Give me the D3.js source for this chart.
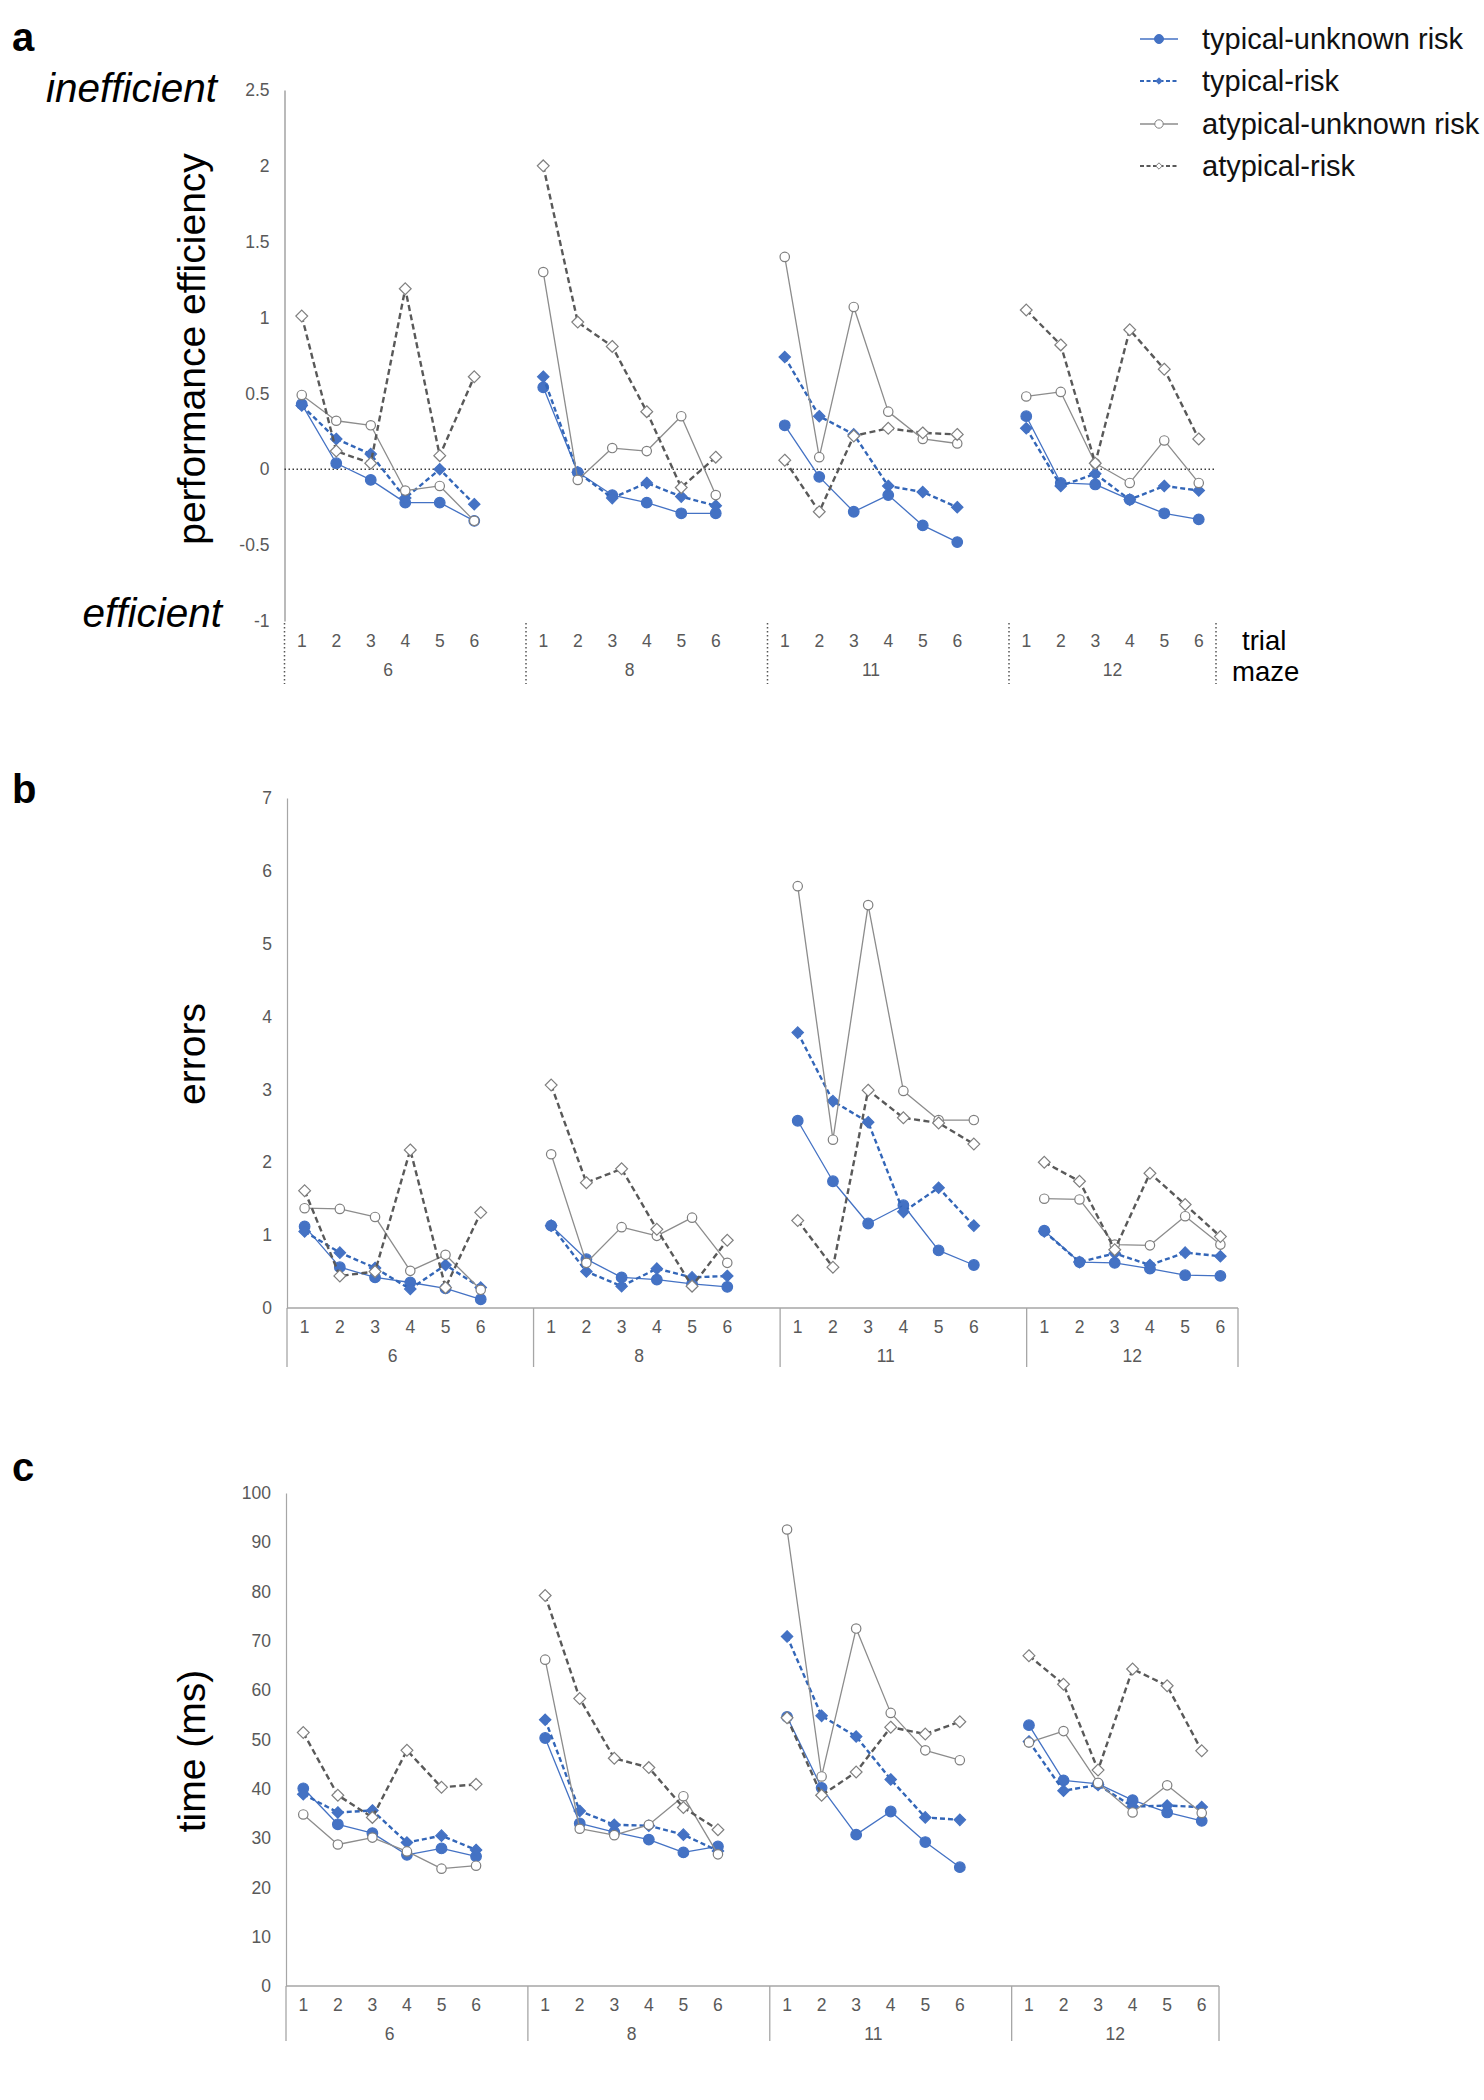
<!DOCTYPE html>
<html><head><meta charset="utf-8">
<script src="https://cdn.jsdelivr.net/npm/d3@7"></script>
<style>
body{margin:0;background:#fff}
svg{display:block}
text{font-family:"Liberation Sans",Arial,Helvetica,sans-serif}
</style>
</head><body>
<svg id="chart" width="1484" height="2100"></svg>
<script>
// ---------- categories ----------
const mazes = ["6", "8", "11", "12"];
const trials = ["1", "2", "3", "4", "5", "6"];
const seriesNames = ["typical-unknown risk", "typical-risk", "atypical-unknown risk", "atypical-risk"];

// ---------- panel a: performance efficiency (6 trials x 4 mazes) ----------
const effTypUnknown = [
  0.43, 0.04, -0.07, -0.22, -0.22, -0.34,
  0.54, -0.02, -0.17, -0.22, -0.29, -0.29,
  0.29, -0.05, -0.28, -0.17, -0.37, -0.48,
  0.35, -0.09, -0.10, -0.20, -0.29, -0.33];
const effTypRisk = [
  0.42, 0.20, 0.10, -0.19, 0.00, -0.23,
  0.61, -0.02, -0.19, -0.09, -0.18, -0.24,
  0.74, 0.35, 0.23, -0.11, -0.15, -0.25,
  0.27, -0.11, -0.03, -0.20, -0.11, -0.14];
const effAtypUnknown = [
  0.49, 0.32, 0.29, -0.14, -0.11, -0.34,
  1.30, -0.07, 0.14, 0.12, 0.35, -0.17,
  1.40, 0.08, 1.07, 0.38, 0.20, 0.17,
  0.48, 0.51, 0.04, -0.09, 0.19, -0.09];
const effAtypRisk = [
  1.01, 0.12, 0.04, 1.19, 0.09, 0.61,
  2.00, 0.97, 0.81, 0.38, -0.12, 0.08,
  0.06, -0.28, 0.22, 0.27, 0.24, 0.23,
  1.05, 0.82, 0.04, 0.92, 0.66, 0.20];
const effTicks = [-1, -0.5, 0, 0.5, 1, 1.5, 2, 2.5];

// ---------- panel b: errors ----------
const errTypUnknown = [
  1.12, 0.56, 0.42, 0.35, 0.27, 0.12,
  1.13, 0.67, 0.42, 0.39, 0.33, 0.29,
  2.57, 1.74, 1.16, 1.41, 0.79, 0.59,
  1.06, 0.63, 0.62, 0.54, 0.45, 0.44];
const errTypRisk = [
  1.05, 0.76, 0.55, 0.26, 0.59, 0.28,
  1.13, 0.50, 0.30, 0.54, 0.42, 0.44,
  3.78, 2.84, 2.55, 1.32, 1.65, 1.13,
  1.05, 0.63, 0.75, 0.59, 0.76, 0.71];
const errAtypUnknown = [
  1.37, 1.36, 1.25, 0.51, 0.73, 0.25,
  2.11, 0.62, 1.11, 0.99, 1.24, 0.62,
  5.79, 2.31, 5.53, 2.98, 2.58, 2.58,
  1.50, 1.49, 0.87, 0.86, 1.26, 0.87];
const errAtypRisk = [
  1.61, 0.44, 0.50, 2.17, 0.28, 1.31,
  3.06, 1.72, 1.91, 1.08, 0.30, 0.93,
  1.20, 0.56, 2.99, 2.61, 2.54, 2.25,
  2.00, 1.74, 0.80, 1.85, 1.42, 0.98];
const errTicks = [0, 1, 2, 3, 4, 5, 6, 7];

// ---------- panel c: time (ms) ----------
const timeTypUnknown = [
  40.1, 32.8, 31.0, 26.6, 27.9, 26.3,
  50.3, 33.0, 31.2, 29.7, 27.1, 28.3,
  54.6, 40.2, 30.7, 35.4, 29.2, 24.1,
  52.9, 41.7, 41.0, 37.7, 35.2, 33.5];
const timeTypRisk = [
  38.9, 35.2, 35.6, 29.1, 30.5, 27.6,
  54.0, 35.5, 32.7, 32.5, 30.7, 27.4,
  70.9, 54.8, 50.6, 41.9, 34.2, 33.7,
  49.6, 39.6, 40.8, 36.4, 36.6, 36.3];
const timeAtypUnknown = [
  34.8, 28.7, 30.1, 27.3, 23.8, 24.4,
  66.2, 31.9, 30.6, 32.7, 38.5, 26.7,
  92.6, 42.5, 72.5, 55.4, 47.8, 45.8,
  49.4, 51.7, 41.2, 35.2, 40.7, 35.1];
const timeAtypRisk = [
  51.4, 38.7, 34.2, 47.8, 40.3, 40.9,
  79.2, 58.3, 46.2, 44.3, 36.2, 31.7,
  54.4, 38.7, 43.4, 52.5, 51.1, 53.6,
  67.0, 61.2, 43.8, 64.3, 60.9, 47.7];
const timeTicks = [0, 10, 20, 30, 40, 50, 60, 70, 80, 90, 100];

// ---------- styles / layout ----------
const styles = [
  {stroke: "#4472C4", width: 1.3, dash: null,    marker: "circle",  fill: "#4472C4", mstroke: "#4472C4", r: 5.3},
  {stroke: "#3366B8", width: 2.4, dash: "5,3",   marker: "diamond", fill: "#4472C4", mstroke: "#4472C4", r: 5.7},
  {stroke: "#8C8C8C", width: 1.3, dash: null,    marker: "circle",  fill: "#ffffff", mstroke: "#7F7F7F", r: 4.7},
  {stroke: "#595959", width: 2.4, dash: "6,3.5", marker: "diamond", fill: "#ffffff", mstroke: "#7F7F7F", r: 5.9}
];

const panels = [
  {letter: "a", series: [effTypUnknown, effTypRisk, effAtypUnknown, effAtypRisk], domain: [-1, 2.5], ticks: effTicks,
   x0: 284.5, x1: 1216, yTop: 90, yBot: 621, sepBottom: 684, trialY: 647, mazeY: 676, dotted: true,
   title: "performance efficiency", titleCY: 349, letterY: 51},
  {letter: "b", series: [errTypUnknown, errTypRisk, errAtypUnknown, errAtypRisk], domain: [0, 7], ticks: errTicks,
   x0: 287, x1: 1238, yTop: 798, yBot: 1308, sepBottom: 1367, trialY: 1333, mazeY: 1362, dotted: false,
   title: "errors", titleCY: 1054, letterY: 803},
  {letter: "c", series: [timeTypUnknown, timeTypRisk, timeAtypUnknown, timeAtypRisk], domain: [0, 100], ticks: timeTicks,
   x0: 286, x1: 1219, yTop: 1493, yBot: 1986, sepBottom: 2041, trialY: 2011, mazeY: 2040, dotted: false,
   title: "time (ms)", titleCY: 1751, letterY: 1481}
];

// slot keys: 6 trials per maze, blank slot between mazes
const slotKeys = [];
mazes.forEach((m, mi) => {
  trials.forEach(t => slotKeys.push(m + "-" + t));
  if (mi < mazes.length - 1) slotKeys.push(m + "-gap");
});

const diamondType = {
  draw(ctx, size) {
    const h = Math.sqrt(size / 2);
    ctx.moveTo(0, -h); ctx.lineTo(h, 0); ctx.lineTo(0, h); ctx.lineTo(-h, 0); ctx.closePath();
  }
};
function symbolPath(kind, r) {
  if (kind === "circle") return d3.symbol().type(d3.symbolCircle).size(Math.PI * r * r)();
  return d3.symbol().type(diamondType).size(2 * r * r)();
}

const svg = d3.select("#chart");
const tickColor = "#595959";
const axisColor = "#A6A6A6";
const tickFont = 17.5;

panels.forEach(p => {
  const g = svg.append("g");
  const x = d3.scaleBand().domain(slotKeys).range([p.x0, p.x1]).padding(0);
  const cx = k => x(k) + x.bandwidth() / 2;
  const y = d3.scaleLinear().domain(p.domain).range([p.yBot, p.yTop]);

  // panel letter
  g.append("text").attr("x", 12).attr("y", p.letterY).attr("font-size", 40).attr("font-weight", "bold")
    .attr("fill", "#000").text(p.letter);

  // y axis
  const yAxis = d3.axisLeft(y).tickValues(p.ticks).tickSize(0).tickSizeOuter(0).tickPadding(15)
    .tickFormat(d => String(d));
  const ya = g.append("g").attr("transform", `translate(${p.x0},0)`).call(yAxis);
  ya.select(".domain").attr("stroke", p.dotted ? "#8C8C8C" : axisColor).attr("stroke-width", 1.2);
  ya.selectAll("text").attr("font-size", tickFont).attr("fill", tickColor)
    .attr("font-family", '"Liberation Sans",Arial,sans-serif');

  // horizontal zero / category axis line
  if (p.dotted) {
    g.append("line").attr("x1", p.x0).attr("x2", p.x1).attr("y1", y(0)).attr("y2", y(0))
      .attr("stroke", "#3a3a3a").attr("stroke-width", 1.5).attr("stroke-dasharray", "1.5,2.5");
  } else {
    g.append("line").attr("x1", p.x0).attr("x2", p.x1).attr("y1", y(0)).attr("y2", y(0))
      .attr("stroke", axisColor).attr("stroke-width", 1.3);
  }

  // separators
  const sepTop = p.dotted ? p.yBot : y(0);
  const sepXs = mazes.map(m => x(m + "-1")).concat([p.x1]);
  sepXs.forEach(sx => {
    const ln = g.append("line").attr("x1", sx).attr("x2", sx).attr("y1", sepTop + (p.dotted ? 2 : 0)).attr("y2", p.sepBottom);
    if (p.dotted) ln.attr("stroke", "#555").attr("stroke-width", 1.5).attr("stroke-dasharray", "1.5,2.5");
    else ln.attr("stroke", axisColor).attr("stroke-width", 1.3);
  });

  // trial & maze labels
  mazes.forEach(m => {
    trials.forEach(t => {
      g.append("text").attr("x", cx(m + "-" + t)).attr("y", p.trialY).attr("text-anchor", "middle")
        .attr("font-size", tickFont).attr("fill", tickColor).text(t);
    });
    const mid = (cx(m + "-1") + cx(m + "-6")) / 2;
    g.append("text").attr("x", mid).attr("y", p.mazeY).attr("text-anchor", "middle")
      .attr("font-size", tickFont).attr("fill", tickColor).text(m);
  });

  // axis title
  g.append("text").attr("transform", `translate(205,${p.titleCY}) rotate(-90)`).attr("text-anchor", "middle")
    .attr("font-size", 39).attr("fill", "#000").text(p.title);

  // series
  p.series.forEach((vals, si) => {
    const st = styles[si];
    const sg = g.append("g");
    mazes.forEach((m, mi) => {
      const pts = trials.map((t, ti) => ({k: m + "-" + t, v: vals[mi * 6 + ti]}));
      const line = d3.line().x(d => cx(d.k)).y(d => y(d.v));
      sg.append("path").attr("d", line(pts)).attr("fill", "none").attr("stroke", st.stroke)
        .attr("stroke-width", st.width).attr("stroke-dasharray", st.dash).attr("stroke-linejoin", "round");
    });
    mazes.forEach((m, mi) => {
      trials.forEach((t, ti) => {
        sg.append("path").attr("d", symbolPath(st.marker, st.r))
          .attr("transform", `translate(${cx(m + "-" + t)},${y(vals[mi * 6 + ti])})`)
          .attr("fill", st.fill).attr("stroke", st.mstroke).attr("stroke-width", 1.2);
      });
    });
  });
});

// panel a extra labels
svg.append("text").attr("x", 217).attr("y", 102).attr("text-anchor", "end").attr("font-size", 40.5)
  .attr("font-style", "italic").text("inefficient");
svg.append("text").attr("x", 222).attr("y", 627).attr("text-anchor", "end").attr("font-size", 40.5)
  .attr("font-style", "italic").text("efficient");
svg.append("text").attr("x", 1242).attr("y", 650).attr("font-size", 27.5).text("trial");
svg.append("text").attr("x", 1232).attr("y", 681).attr("font-size", 27.5).text("maze");

// legend
const legendY = [39, 81, 124, 166];
const lg = svg.append("g");
seriesNames.forEach((name, i) => {
  const st = styles[i];
  const yy = legendY[i];
  lg.append("line").attr("x1", 1140).attr("x2", 1178).attr("y1", yy).attr("y2", yy)
    .attr("stroke", st.stroke).attr("stroke-width", st.dash ? 2 : 1.3).attr("stroke-dasharray", st.dash ? "4,2.5" : null);
  const rr = i === 0 ? 4.5 : (i === 2 ? 4.2 : 3.2);
  lg.append("path").attr("d", symbolPath(st.marker, rr)).attr("transform", `translate(1159,${yy})`)
    .attr("fill", st.fill).attr("stroke", st.mstroke).attr("stroke-width", 1);
  lg.append("text").attr("x", 1202).attr("y", yy + 10).attr("font-size", 29).attr("fill", "#111").text(name);
});
</script>
</body></html>
